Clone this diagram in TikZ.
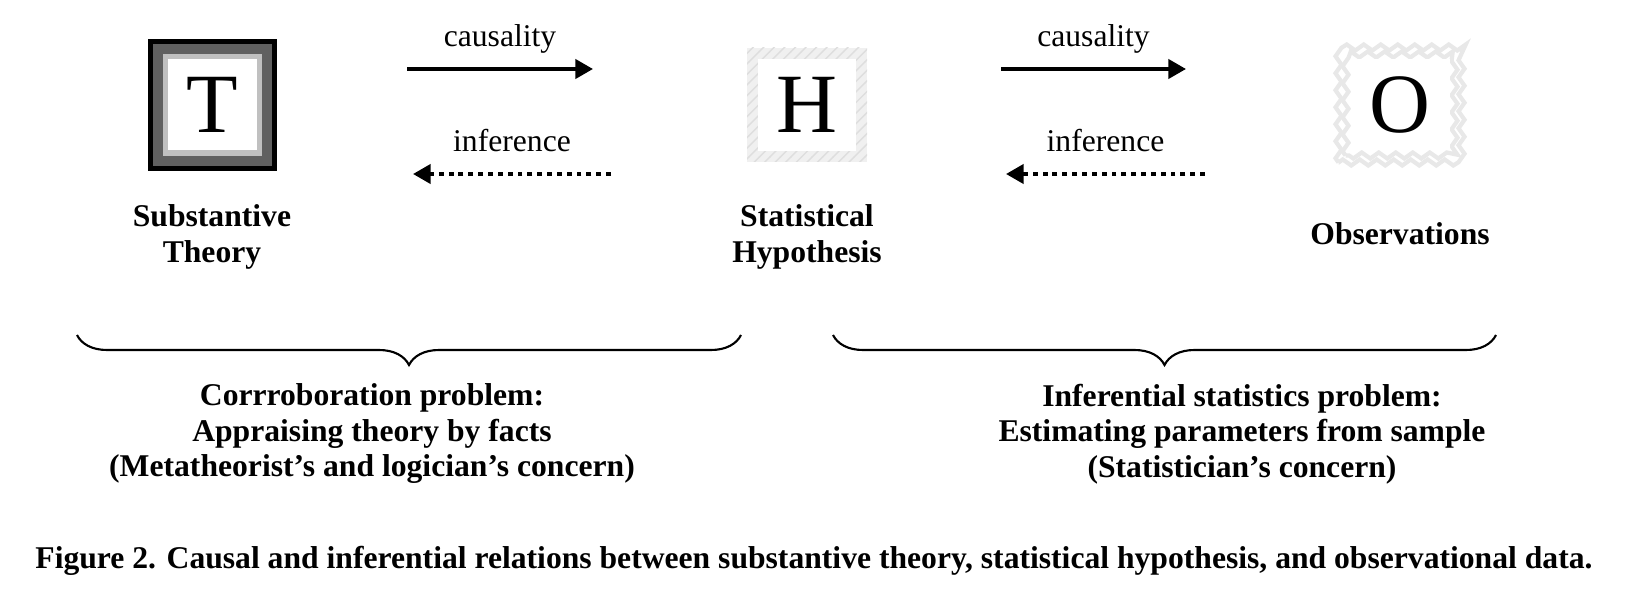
\documentclass[tikz,border=0pt]{standalone}
\usepackage{fontspec}
\setmainfont{Liberation Serif}
\usepackage{tikz}
\usetikzlibrary{arrows.meta,decorations.pathreplacing,decorations.pathmorphing,patterns,positioning}
\pgfdeclarelayer{background}
\pgfsetlayers{background,main}
\definecolor{cidark}{RGB}{96,96,96}
\definecolor{cilight}{RGB}{192,192,192}
\tikzset{
  cibox/.style={align=center, inner sep=0pt, outer sep=0pt, fill=white, font=\fontsize{24}{26}\selectfont},
  cithy/.style={cibox, minimum width=.89cm, minimum height=.91cm,
    preaction={draw=black, line width=.4cm},
    preaction={draw=cidark, line width=.3cm},
    preaction={draw=cilight, line width=.1cm}},
  cihyp/.style={cibox, minimum width=.98cm, minimum height=.92cm},
  ciobs/.style={cibox, minimum width=.99cm, minimum height=.91cm},
  cihatch/.style={preaction={fill=black!6}, pattern=north east lines, pattern color=black!13},
  cizig/.style={draw=black!9, line width=1.2pt, decorate, decoration={zigzag, segment length=.17cm, amplitude=.03cm}},
  cilbl/.style={font=\fontsize{9}{10.1}\selectfont\bfseries, align=center, inner sep=0pt},
  citxt/.style={font=\fontsize{9}{10.1}\selectfont, above=.09cm, text depth=0pt},
  ciarr/.style={-{Triangle[length=5pt,width=5.4pt]}, line width=1.1pt},
  ciinf/.style={ciarr, dash pattern=on 1.4pt off 1.4pt},
  cibrace/.style={line width=.6pt, decorate, decoration={brace, mirror, amplitude=.3cm}}
}
\begin{document}
\begin{tikzpicture}
  \useasboundingbox (0,0) rectangle (16.4,6);
  % the three levels
  \node[cithy] (T) at (2.12,4.95) {T};
  \node[cihyp] (H) at (8.07,4.95) {H};
  \node[ciobs] (O) at (14.0,4.95) {O};
  \begin{pgfonlayer}{background}
    \fill[cihatch] ([shift={(-.11,-.11)}]H.south west) rectangle ([shift={(.11,.11)}]H.north east);
    \draw[cizig] ([shift={(-.05,-.05)}]O.south west) rectangle ([shift={(.05,.05)}]O.north east);
    \draw[cizig] ([shift={(-.12,-.12)}]O.south west) rectangle ([shift={(.12,.12)}]O.north east);
  \end{pgfonlayer}
  \node[cilbl] (thylbl) at ([yshift=-1.32cm]T) {Substantive\\Theory};
  \node[cilbl] (hyplbl) at ([yshift=-1.32cm]H) {Statistical\\Hypothesis};
  \node[cilbl] (obslbl) at ([yshift=-1.29cm]O) {Observations};
  % causality / inference arrows
  \coordinate (c1a) at (4.07,5.31);
  \coordinate (c1b) at (5.93,5.31);
  \coordinate (i1a) at (4.13,4.26);
  \coordinate (i1b) at (6.11,4.26);
  \coordinate (c2a) at (10.01,5.31);
  \coordinate (c2b) at (11.86,5.31);
  \coordinate (i2a) at (10.06,4.26);
  \coordinate (i2b) at (12.05,4.26);
  \draw[ciarr] (c1a) -- node[citxt] {causality} (c1b);
  \draw[ciinf] (i1b) -- node[citxt] {inference} (i1a);
  \draw[ciarr] (c2a) -- node[citxt] {causality} (c2b);
  \draw[ciinf] (i2b) -- node[citxt] {inference} (i2a);
  % braces and problems
  \coordinate (b1a) at (.77,2.65);
  \coordinate (b1b) at (7.41,2.65);
  \coordinate (b2a) at (8.33,2.65);
  \coordinate (b2b) at (14.96,2.65);
  \draw[cibrace] (b1a) -- (b1b);
  \draw[cibrace] (b2a) -- (b2b);
  \node[cilbl] (corr) at (3.72,1.66) {Corrroboration problem:\\Appraising theory by facts\\(Metatheorist’s and logician’s concern)};
  \node[cilbl] (infst) at (12.42,1.66) {Inferential statistics problem:\\Estimating parameters from sample\\(Statistician’s concern)};
  \node[cilbl] (cap) at (8.14,.39) {Figure 2. Causal and inferential relations between substantive theory, statistical hypothesis, and observational data.};
\end{tikzpicture}
\end{document}
